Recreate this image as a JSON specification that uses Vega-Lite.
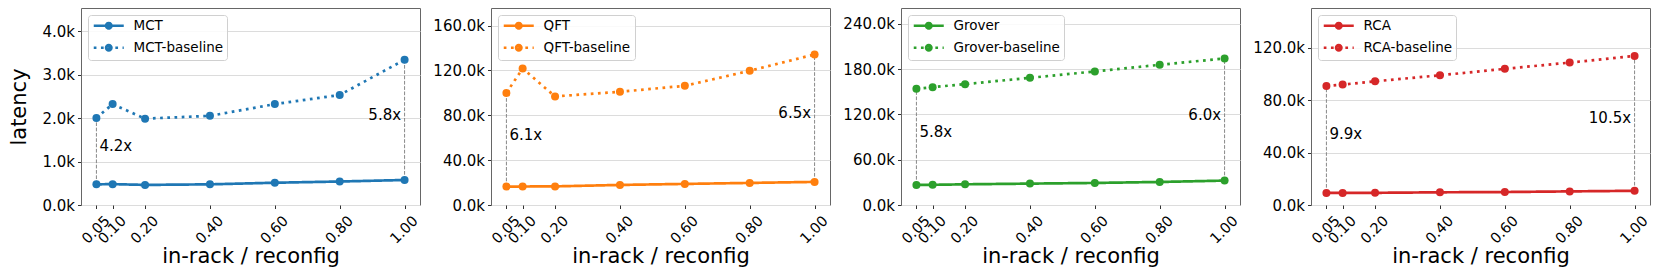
{
  "$schema": "https://vega.github.io/schema/vega-lite/v6.json",
  "padding": {"left": 8, "top": 7, "right": 10, "bottom": 2},
  "spacing": 71,
  "bounds": "flush",
  "datasets": {
    "lines": [
      {"panel": "MCT", "series": "MCT", "x": 0.05, "value": 475},
      {"panel": "MCT", "series": "MCT", "x": 0.1, "value": 480},
      {"panel": "MCT", "series": "MCT", "x": 0.2, "value": 462},
      {"panel": "MCT", "series": "MCT", "x": 0.4, "value": 475},
      {"panel": "MCT", "series": "MCT", "x": 0.6, "value": 512},
      {"panel": "MCT", "series": "MCT", "x": 0.8, "value": 540},
      {"panel": "MCT", "series": "MCT", "x": 1.0, "value": 575},
      {"panel": "MCT", "series": "MCT-baseline", "x": 0.05, "value": 2000},
      {"panel": "MCT", "series": "MCT-baseline", "x": 0.1, "value": 2320},
      {"panel": "MCT", "series": "MCT-baseline", "x": 0.2, "value": 1985},
      {"panel": "MCT", "series": "MCT-baseline", "x": 0.4, "value": 2050},
      {"panel": "MCT", "series": "MCT-baseline", "x": 0.6, "value": 2320},
      {"panel": "MCT", "series": "MCT-baseline", "x": 0.8, "value": 2530},
      {"panel": "MCT", "series": "MCT-baseline", "x": 1.0, "value": 3340},
      {"panel": "QFT", "series": "QFT", "x": 0.05, "value": 16400},
      {"panel": "QFT", "series": "QFT", "x": 0.1, "value": 16500},
      {"panel": "QFT", "series": "QFT", "x": 0.2, "value": 16600},
      {"panel": "QFT", "series": "QFT", "x": 0.4, "value": 17900},
      {"panel": "QFT", "series": "QFT", "x": 0.6, "value": 18800},
      {"panel": "QFT", "series": "QFT", "x": 0.8, "value": 19700},
      {"panel": "QFT", "series": "QFT", "x": 1.0, "value": 20600},
      {"panel": "QFT", "series": "QFT-baseline", "x": 0.05, "value": 100000},
      {"panel": "QFT", "series": "QFT-baseline", "x": 0.1, "value": 121800},
      {"panel": "QFT", "series": "QFT-baseline", "x": 0.2, "value": 96800},
      {"panel": "QFT", "series": "QFT-baseline", "x": 0.4, "value": 101000},
      {"panel": "QFT", "series": "QFT-baseline", "x": 0.6, "value": 106300},
      {"panel": "QFT", "series": "QFT-baseline", "x": 0.8, "value": 119700},
      {"panel": "QFT", "series": "QFT-baseline", "x": 1.0, "value": 134300},
      {"panel": "Grover", "series": "Grover", "x": 0.05, "value": 26500},
      {"panel": "Grover", "series": "Grover", "x": 0.1, "value": 26700},
      {"panel": "Grover", "series": "Grover", "x": 0.2, "value": 27400},
      {"panel": "Grover", "series": "Grover", "x": 0.4, "value": 28300},
      {"panel": "Grover", "series": "Grover", "x": 0.6, "value": 29200},
      {"panel": "Grover", "series": "Grover", "x": 0.8, "value": 30500},
      {"panel": "Grover", "series": "Grover", "x": 1.0, "value": 32300},
      {"panel": "Grover", "series": "Grover-baseline", "x": 0.05, "value": 153800},
      {"panel": "Grover", "series": "Grover-baseline", "x": 0.1, "value": 156000},
      {"panel": "Grover", "series": "Grover-baseline", "x": 0.2, "value": 160000},
      {"panel": "Grover", "series": "Grover-baseline", "x": 0.4, "value": 168400},
      {"panel": "Grover", "series": "Grover-baseline", "x": 0.6, "value": 176800},
      {"panel": "Grover", "series": "Grover-baseline", "x": 0.8, "value": 185600},
      {"panel": "Grover", "series": "Grover-baseline", "x": 1.0, "value": 194000},
      {"panel": "RCA", "series": "RCA", "x": 0.05, "value": 9200},
      {"panel": "RCA", "series": "RCA", "x": 0.1, "value": 9200},
      {"panel": "RCA", "series": "RCA", "x": 0.2, "value": 9300},
      {"panel": "RCA", "series": "RCA", "x": 0.4, "value": 9700},
      {"panel": "RCA", "series": "RCA", "x": 0.6, "value": 9900},
      {"panel": "RCA", "series": "RCA", "x": 0.8, "value": 10400},
      {"panel": "RCA", "series": "RCA", "x": 1.0, "value": 10850},
      {"panel": "RCA", "series": "RCA-baseline", "x": 0.05, "value": 91000},
      {"panel": "RCA", "series": "RCA-baseline", "x": 0.1, "value": 92000},
      {"panel": "RCA", "series": "RCA-baseline", "x": 0.2, "value": 94500},
      {"panel": "RCA", "series": "RCA-baseline", "x": 0.4, "value": 99100},
      {"panel": "RCA", "series": "RCA-baseline", "x": 0.6, "value": 104000},
      {"panel": "RCA", "series": "RCA-baseline", "x": 0.8, "value": 108800},
      {"panel": "RCA", "series": "RCA-baseline", "x": 1.0, "value": 113900}
    ],
    "annot": [
      {"panel": "MCT", "x": 0.05, "lo": 475, "hi": 2000, "mid": 1237, "label": "4.2x", "side": "left"},
      {"panel": "MCT", "x": 1.0, "lo": 575, "hi": 3340, "mid": 1957, "label": "5.8x", "side": "right"},
      {"panel": "QFT", "x": 0.05, "lo": 16400, "hi": 100000, "mid": 58200, "label": "6.1x", "side": "left"},
      {"panel": "QFT", "x": 1.0, "lo": 20600, "hi": 134300, "mid": 77450, "label": "6.5x", "side": "right"},
      {"panel": "Grover", "x": 0.05, "lo": 26500, "hi": 153800, "mid": 90150, "label": "5.8x", "side": "left"},
      {"panel": "Grover", "x": 1.0, "lo": 32300, "hi": 194000, "mid": 113150, "label": "6.0x", "side": "right"},
      {"panel": "RCA", "x": 0.05, "lo": 9200, "hi": 91000, "mid": 50100, "label": "9.9x", "side": "left"},
      {"panel": "RCA", "x": 1.0, "lo": 10850, "hi": 113900, "mid": 62375, "label": "10.5x", "side": "right"}
    ]
  },
  "config": {
    "font": "DejaVu Sans",
    "view": {"stroke": "#666", "strokeWidth": 1},
    "axis": {"domain": false, "tickSize": 3.5, "tickColor": "#333", "tickWidth": 1, "labelColor": "#000", "titleColor": "#000", "labelFont": "DejaVu Sans", "titleFont": "DejaVu Sans", "titleFontWeight": "normal", "labelFontSize": 15, "titleFontSize": 21},
    "axisX": {"grid": false, "labelAngle": -45, "labelAlign": "right", "labelBaseline": "top", "labelFlush": false, "labelOverlap": false, "labelBound": false, "labelPadding": 5, "labelOffset": 6, "titlePadding": 0, "labelFontSize": 14.5},
    "axisY": {"grid": true, "gridColor": "#dcdcdc", "gridWidth": 1.2, "labelPadding": 3, "titlePadding": 12, "labelFlush": false, "labelOverlap": false},
    "legend": {"orient": "top-left", "offset": 7, "padding": 4, "strokeColor": "#d0d0d0", "fillColor": "rgba(255,255,255,0.85)", "cornerRadius": 3, "labelFontSize": 13.5, "labelFont": "DejaVu Sans", "labelColor": "#000", "symbolType": "M-1,0H5M2.53,0A0.53,0.53 0 0,1 2.375,0.375M2.375,0.375A0.53,0.53 0 0,1 2,0.53M2,0.53A0.53,0.53 0 0,1 1.625,0.375M1.625,0.375A0.53,0.53 0 0,1 1.47,0M1.47,0A0.53,0.53 0 0,1 1.625,-0.375M1.625,-0.375A0.53,0.53 0 0,1 2,-0.53M2,-0.53A0.53,0.53 0 0,1 2.375,-0.375M2.375,-0.375A0.53,0.53 0 0,1 2.53,0M2.08,0A0.08,0.08 0 1,1 1.92,0A0.08,0.08 0 1,1 2.08,0", "symbolSize": 100, "symbolStrokeWidth": 2.7, "labelOffset": 28, "rowPadding": 5, "symbolOpacity": 1},
    "text": {"font": "DejaVu Sans"}
  },
  "resolve": {"scale": {"color": "independent", "strokeDash": "independent", "y": "independent", "x": "independent"}},
  "hconcat": [
    {
      "width": 339, "height": 197,
      "encoding": {"x": {"field": "x", "type": "quantitative", "scale": {"domain": [0.0025, 1.0475], "nice": false, "zero": false}, "axis": {"values": [0.05, 0.1, 0.2, 0.4, 0.6, 0.8, 1.0], "format": ".2f", "title": "in-rack / reconfig"}}},
      "layer": [
        {"data": {"name": "annot"}, "transform": [{"filter": "datum.panel === 'MCT'"}], "mark": {"type": "rule", "color": "#888", "strokeDash": [3.7, 1.6], "strokeWidth": 1},
         "encoding": {"y": {"field": "lo", "type": "quantitative", "scale": {"domain": [0, 4530], "nice": false}, "axis": {"values": [0, 1000, 2000, 3000, 4000], "labelExpr": "format(datum.value/1000,'.1f')+'k'", "title": "latency"}}, "y2": {"field": "hi"}}},
        {"data": {"name": "lines"}, "transform": [{"filter": "datum.panel === 'MCT'"}], "mark": {"type": "line", "strokeWidth": 2.7, "point": {"filled": true, "size": 64}},
         "encoding": {"y": {"field": "value", "type": "quantitative", "scale": {"domain": [0, 4530], "nice": false}, "axis": {"values": [0, 1000, 2000, 3000, 4000], "labelExpr": "format(datum.value/1000,'.1f')+'k'", "title": "latency"}},
           "color": {"field": "series", "type": "nominal", "scale": {"domain": ["MCT", "MCT-baseline"], "range": ["#1f77b4", "#1f77b4"]}, "legend": {"title": null, "symbolFillColor": "#1f77b4"}},
           "strokeDash": {"field": "series", "type": "nominal", "scale": {"domain": ["MCT", "MCT-baseline"], "range": [[1, 0], [2.7, 4.5]]}, "legend": {"title": null}}}},
        {"data": {"name": "annot"}, "transform": [{"filter": "datum.panel === 'MCT' && datum.side === 'left'"}], "mark": {"type": "text", "align": "left", "baseline": "alphabetic", "dx": 3, "fontSize": 15, "color": "#000"},
         "encoding": {"y": {"field": "mid", "type": "quantitative", "scale": {"domain": [0, 4530], "nice": false}, "axis": {"values": [0, 1000, 2000, 3000, 4000], "labelExpr": "format(datum.value/1000,'.1f')+'k'", "title": "latency"}}, "text": {"field": "label"}}},
        {"data": {"name": "annot"}, "transform": [{"filter": "datum.panel === 'MCT' && datum.side === 'right'"}], "mark": {"type": "text", "align": "right", "baseline": "alphabetic", "dx": -3.5, "fontSize": 15, "color": "#000"},
         "encoding": {"y": {"field": "mid", "type": "quantitative", "scale": {"domain": [0, 4530], "nice": false}, "axis": {"values": [0, 1000, 2000, 3000, 4000], "labelExpr": "format(datum.value/1000,'.1f')+'k'", "title": "latency"}}, "text": {"field": "label"}}}
      ]
    },
    {
      "width": 339, "height": 197,
      "encoding": {"x": {"field": "x", "type": "quantitative", "scale": {"domain": [0.0025, 1.0475], "nice": false, "zero": false}, "axis": {"values": [0.05, 0.1, 0.2, 0.4, 0.6, 0.8, 1.0], "format": ".2f", "title": "in-rack / reconfig"}}},
      "layer": [
        {"data": {"name": "annot"}, "transform": [{"filter": "datum.panel === 'QFT'"}], "mark": {"type": "rule", "color": "#888", "strokeDash": [3.7, 1.6], "strokeWidth": 1},
         "encoding": {"y": {"field": "lo", "type": "quantitative", "scale": {"domain": [0, 175700], "nice": false}, "axis": {"values": [0, 40000, 80000, 120000, 160000], "labelExpr": "format(datum.value/1000,'.1f')+'k'", "title": null}}, "y2": {"field": "hi"}}},
        {"data": {"name": "lines"}, "transform": [{"filter": "datum.panel === 'QFT'"}], "mark": {"type": "line", "strokeWidth": 2.7, "point": {"filled": true, "size": 64}},
         "encoding": {"y": {"field": "value", "type": "quantitative", "scale": {"domain": [0, 175700], "nice": false}, "axis": {"values": [0, 40000, 80000, 120000, 160000], "labelExpr": "format(datum.value/1000,'.1f')+'k'", "title": null}},
           "color": {"field": "series", "type": "nominal", "scale": {"domain": ["QFT", "QFT-baseline"], "range": ["#ff7f0e", "#ff7f0e"]}, "legend": {"title": null, "symbolFillColor": "#ff7f0e"}},
           "strokeDash": {"field": "series", "type": "nominal", "scale": {"domain": ["QFT", "QFT-baseline"], "range": [[1, 0], [2.7, 4.5]]}, "legend": {"title": null}}}},
        {"data": {"name": "annot"}, "transform": [{"filter": "datum.panel === 'QFT' && datum.side === 'left'"}], "mark": {"type": "text", "align": "left", "baseline": "alphabetic", "dx": 3, "fontSize": 15, "color": "#000"},
         "encoding": {"y": {"field": "mid", "type": "quantitative", "scale": {"domain": [0, 175700], "nice": false}, "axis": {"values": [0, 40000, 80000, 120000, 160000], "labelExpr": "format(datum.value/1000,'.1f')+'k'", "title": null}}, "text": {"field": "label"}}},
        {"data": {"name": "annot"}, "transform": [{"filter": "datum.panel === 'QFT' && datum.side === 'right'"}], "mark": {"type": "text", "align": "right", "baseline": "alphabetic", "dx": -3.5, "fontSize": 15, "color": "#000"},
         "encoding": {"y": {"field": "mid", "type": "quantitative", "scale": {"domain": [0, 175700], "nice": false}, "axis": {"values": [0, 40000, 80000, 120000, 160000], "labelExpr": "format(datum.value/1000,'.1f')+'k'", "title": null}}, "text": {"field": "label"}}}
      ]
    },
    {
      "width": 339, "height": 197,
      "encoding": {"x": {"field": "x", "type": "quantitative", "scale": {"domain": [0.0025, 1.0475], "nice": false, "zero": false}, "axis": {"values": [0.05, 0.1, 0.2, 0.4, 0.6, 0.8, 1.0], "format": ".2f", "title": "in-rack / reconfig"}}},
      "layer": [
        {"data": {"name": "annot"}, "transform": [{"filter": "datum.panel === 'Grover'"}], "mark": {"type": "rule", "color": "#888", "strokeDash": [3.7, 1.6], "strokeWidth": 1},
         "encoding": {"y": {"field": "lo", "type": "quantitative", "scale": {"domain": [0, 260800], "nice": false}, "axis": {"values": [0, 60000, 120000, 180000, 240000], "labelExpr": "format(datum.value/1000,'.1f')+'k'", "title": null}}, "y2": {"field": "hi"}}},
        {"data": {"name": "lines"}, "transform": [{"filter": "datum.panel === 'Grover'"}], "mark": {"type": "line", "strokeWidth": 2.7, "point": {"filled": true, "size": 64}},
         "encoding": {"y": {"field": "value", "type": "quantitative", "scale": {"domain": [0, 260800], "nice": false}, "axis": {"values": [0, 60000, 120000, 180000, 240000], "labelExpr": "format(datum.value/1000,'.1f')+'k'", "title": null}},
           "color": {"field": "series", "type": "nominal", "scale": {"domain": ["Grover", "Grover-baseline"], "range": ["#2ca02c", "#2ca02c"]}, "legend": {"title": null, "symbolFillColor": "#2ca02c"}},
           "strokeDash": {"field": "series", "type": "nominal", "scale": {"domain": ["Grover", "Grover-baseline"], "range": [[1, 0], [2.7, 4.5]]}, "legend": {"title": null}}}},
        {"data": {"name": "annot"}, "transform": [{"filter": "datum.panel === 'Grover' && datum.side === 'left'"}], "mark": {"type": "text", "align": "left", "baseline": "alphabetic", "dx": 3, "fontSize": 15, "color": "#000"},
         "encoding": {"y": {"field": "mid", "type": "quantitative", "scale": {"domain": [0, 260800], "nice": false}, "axis": {"values": [0, 60000, 120000, 180000, 240000], "labelExpr": "format(datum.value/1000,'.1f')+'k'", "title": null}}, "text": {"field": "label"}}},
        {"data": {"name": "annot"}, "transform": [{"filter": "datum.panel === 'Grover' && datum.side === 'right'"}], "mark": {"type": "text", "align": "right", "baseline": "alphabetic", "dx": -3.5, "fontSize": 15, "color": "#000"},
         "encoding": {"y": {"field": "mid", "type": "quantitative", "scale": {"domain": [0, 260800], "nice": false}, "axis": {"values": [0, 60000, 120000, 180000, 240000], "labelExpr": "format(datum.value/1000,'.1f')+'k'", "title": null}}, "text": {"field": "label"}}}
      ]
    },
    {
      "width": 339, "height": 197,
      "encoding": {"x": {"field": "x", "type": "quantitative", "scale": {"domain": [0.0025, 1.0475], "nice": false, "zero": false}, "axis": {"values": [0.05, 0.1, 0.2, 0.4, 0.6, 0.8, 1.0], "format": ".2f", "title": "in-rack / reconfig"}}},
      "layer": [
        {"data": {"name": "annot"}, "transform": [{"filter": "datum.panel === 'RCA'"}], "mark": {"type": "rule", "color": "#888", "strokeDash": [3.7, 1.6], "strokeWidth": 1},
         "encoding": {"y": {"field": "lo", "type": "quantitative", "scale": {"domain": [0, 150500], "nice": false}, "axis": {"values": [0, 40000, 80000, 120000], "labelExpr": "format(datum.value/1000,'.1f')+'k'", "title": null}}, "y2": {"field": "hi"}}},
        {"data": {"name": "lines"}, "transform": [{"filter": "datum.panel === 'RCA'"}], "mark": {"type": "line", "strokeWidth": 2.7, "point": {"filled": true, "size": 64}},
         "encoding": {"y": {"field": "value", "type": "quantitative", "scale": {"domain": [0, 150500], "nice": false}, "axis": {"values": [0, 40000, 80000, 120000], "labelExpr": "format(datum.value/1000,'.1f')+'k'", "title": null}},
           "color": {"field": "series", "type": "nominal", "scale": {"domain": ["RCA", "RCA-baseline"], "range": ["#d62728", "#d62728"]}, "legend": {"title": null, "symbolFillColor": "#d62728"}},
           "strokeDash": {"field": "series", "type": "nominal", "scale": {"domain": ["RCA", "RCA-baseline"], "range": [[1, 0], [2.7, 4.5]]}, "legend": {"title": null}}}},
        {"data": {"name": "annot"}, "transform": [{"filter": "datum.panel === 'RCA' && datum.side === 'left'"}], "mark": {"type": "text", "align": "left", "baseline": "alphabetic", "dx": 3, "fontSize": 15, "color": "#000"},
         "encoding": {"y": {"field": "mid", "type": "quantitative", "scale": {"domain": [0, 150500], "nice": false}, "axis": {"values": [0, 40000, 80000, 120000], "labelExpr": "format(datum.value/1000,'.1f')+'k'", "title": null}}, "text": {"field": "label"}}},
        {"data": {"name": "annot"}, "transform": [{"filter": "datum.panel === 'RCA' && datum.side === 'right'"}], "mark": {"type": "text", "align": "right", "baseline": "alphabetic", "dx": -3.5, "fontSize": 15, "color": "#000"},
         "encoding": {"y": {"field": "mid", "type": "quantitative", "scale": {"domain": [0, 150500], "nice": false}, "axis": {"values": [0, 40000, 80000, 120000], "labelExpr": "format(datum.value/1000,'.1f')+'k'", "title": null}}, "text": {"field": "label"}}}
      ]
    }
  ]
}
